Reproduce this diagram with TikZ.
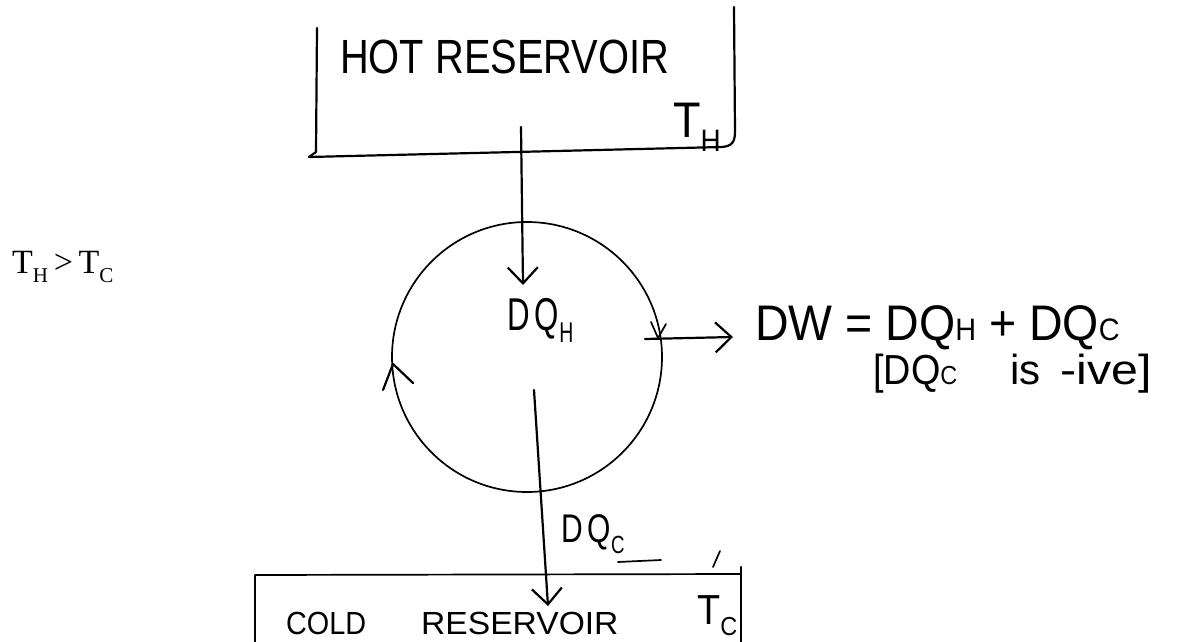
\documentclass[tikz,border=0pt]{standalone}
\usepackage{fontspec}
\usepackage{graphicx}
\setmainfont{Liberation Serif}
\newfontfamily\hand{Liberation Sans}
\usetikzlibrary{arrows.meta}
\newcommand\lowsub[1]{\raisebox{-0.28em}{\scalebox{0.62}{#1}}}
\newcommand\smsub[1]{\scalebox{0.62}{#1}}
\newcommand\hsz[1]{\fontsize{#1}{#1}\selectfont}
\begin{document}
\begin{tikzpicture}[x=1pt,y=-1pt,
  ink/.style={line width=2.2pt,line cap=round,line join=round,black},
  thinink/.style={line width=1.7pt,line cap=round,line join=round,black},
  barb/.style={-{Straight Barb[length=16pt,width=30pt,line width=2.2pt]}},
  hw/.style={font=\hand,inner sep=0pt,anchor=base west},
  print/.style={inner sep=0pt,anchor=base west}]
\useasboundingbox (0,0) rectangle (1194,642);
\fill[white] (0,0) rectangle (1194,642);

% T_H > T_C
\node[print] (cond) at (12,273) {\hsz{34}T\lowsub{H}\,>\,T\lowsub{C}};

% hot reservoir box (open top)
\draw[ink] (317,28) -- (316,152) -- (309,157) -- (722,147)
  .. controls (733,146) and (735,141) .. (735,131) -- (734,7);
\node[hw] (hot) at (340,74) {\hsz{48}\scalebox{0.83}[1]{HOT RESERVOIR}};
\node[hw] (th) at (673,137) {\hsz{50}\scalebox{0.9}[1]{T\lowsub{H}}};

% engine circle
\node[circle,draw,thinink,minimum size=270pt,inner sep=0pt] (engine) at (527,357) {};
\draw[ink] (383,390) -- (393,364) -- (413,383);

% heat in
\coordinate (a1s) at (521,127);
\coordinate (a1e) at (523,285);
\draw[ink,barb] (a1s) -- (a1e);
\node[hw] (dqh) at (507,330) {\hsz{46}\scalebox{0.68}[1]{D\,Q\lowsub{H}}};

% heat out
\coordinate (a2s) at (534,390);
\coordinate (a2e) at (548,606);
\draw[ink,barb] (a2s) -- (a2e);
\node[hw] (dqc) at (561,542) {\hsz{40}\scalebox{0.75}[1]{D\,Q\lowsub{C}}};
\draw[thinink] (618,562) -- (661,560);

% work out
\coordinate (ws) at (645,339);
\coordinate (we) at (733,337);
\draw[ink,barb] (ws) -- (we);
\draw[thinink] (651,322) -- (658,338) -- (666,324);
\node[hw] (dw) at (755,340) {\hsz{50}\scalebox{0.93}[1]{DW = DQ\smsub{H} + DQ\smsub{C}}};
\node[hw] (neg1) at (873,384) {\hsz{42}\scalebox{0.9}[1]{[DQ\smsub{C}}};
\node[hw] (neg2) at (1010,384) {\hsz{42}is};
\node[hw] (neg3) at (1060,384) {\hsz{42}\scalebox{1.15}[1]{-ive]}};

% cold reservoir box (open bottom)
\draw[thinink] (255,645) -- (255,575) -- (741,574);
\draw[ink] (741,567) -- (741,650);
\draw[thinink] (713,567) -- (720,551);
\node[hw] (cold1) at (286,634) {\hsz{32}\scalebox{0.9}[1]{COLD}};
\node[hw] (cold2) at (421,634) {\hsz{32}\scalebox{1.05}[1]{RESERVOIR}};
\node[hw] (tc) at (697,624) {\hsz{42}\scalebox{0.9}[1]{T\lowsub{C}}};
\end{tikzpicture}
\end{document}
